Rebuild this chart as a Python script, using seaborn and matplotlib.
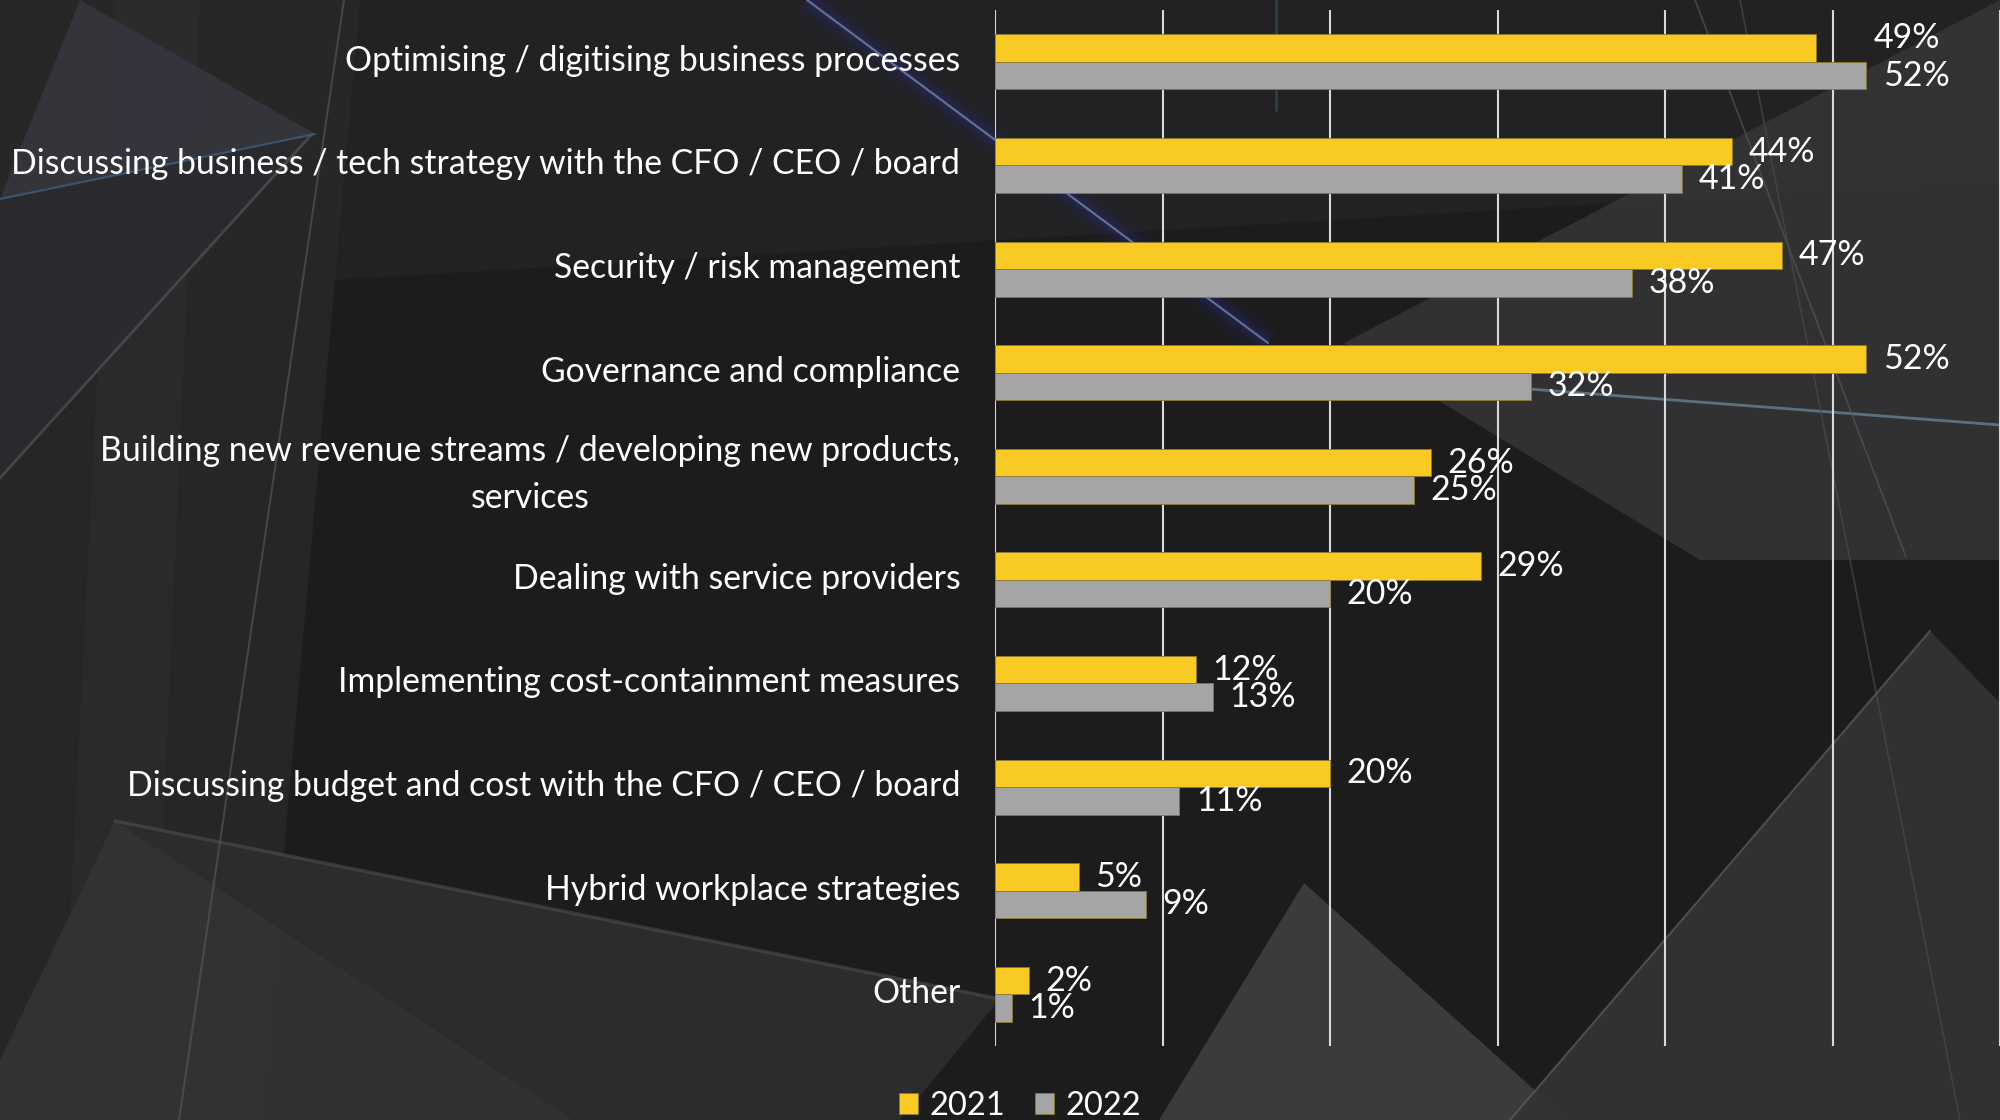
import pandas as pd
import matplotlib
matplotlib.use("Agg")
import matplotlib.pyplot as plt
from matplotlib.patches import Polygon
from matplotlib.transforms import ScaledTranslation
import seaborn as sns

# Données
categories = [
    "Optimising / digitising business processes",
    "Discussing business / tech strategy with the CFO / CEO / board",
    "Security / risk management",
    "Governance and compliance",
    "Building new revenue streams / developing new products,\nservices",
    "Dealing with service providers",
    "Implementing cost-containment measures",
    "Discussing budget and cost with the CFO / CEO / board",
    "Hybrid workplace strategies",
    "Other",
]
values_2021 = [49, 44, 47, 52, 26, 29, 12, 20, 5, 2]
values_2022 = [52, 41, 38, 32, 25, 20, 13, 11, 9, 1]
years = ["2021", "2022"]
colors = {"2021": "#F9CA24", "2022": "#A5A5A5"}
x_ticks = [0, 10, 20, 30, 40, 50, 60]

df = pd.DataFrame({
    "category": categories * 2,
    "value": values_2021 + values_2022,
    "year": [years[0]] * len(categories) + [years[1]] * len(categories),
})

sns.set_theme(style="white")
plt.rcParams["font.family"] = ["Lato", "DejaVu Sans"]

fig = plt.figure(figsize=(20, 11.2), dpi=100)
fig.patch.set_facecolor("#1c1c1d")

# Fond décoratif (formes géométriques sombres)
bg = fig.add_axes([0, 0, 1, 1], zorder=0)
bg.set_xlim(0, 2000)
bg.set_ylim(1120, 0)
bg.axis("off")
shapes = [
    ([(0, 0), (2000, 0), (2000, 180), (0, 300)], "#242426", 0.8),
    ([(0, 0), (360, 0), (260, 1120), (0, 1120)], "#29292a", 0.8),
    ([(116, 0), (200, 0), (150, 1120), (60, 1120)], "#2e2e30", 0.6),
    ([(80, 0), (315, 134), (0, 199)], "#35353d", 0.95),
    ([(0, 199), (315, 134), (0, 478)], "#2c2c30", 0.8),
    ([(115, 821), (0, 1060), (0, 1120), (574, 1120)], "#333335", 0.95),
    ([(115, 821), (1000, 999), (900, 1120), (574, 1120)], "#2d2d2f", 0.95),
    ([(1304, 883), (1159, 1120), (1568, 1120)], "#3d3d3f", 0.95),
    ([(1930, 631), (2000, 703), (2000, 1120), (1510, 1120)], "#333335", 0.95),
    ([(2000, 0), (1344, 343), (1700, 560), (2000, 560)], "#343436", 0.9),
]
for pts, col, a in shapes:
    bg.add_patch(Polygon(pts, closed=True, facecolor=col, edgecolor="none", alpha=a))

# traînée bleue lumineuse
for lw, a in [(22, 0.1), (11, 0.18), (5, 0.25)]:
    bg.plot([807, 1268], [0, 343], color="#2a2a80", lw=lw, alpha=a, solid_capstyle="butt")
bg.plot([807, 1268], [0, 343], color="#7f98a8", lw=1.5, alpha=0.7)
bg.plot([1276, 1276], [0, 110], color="#4f7f8f", lw=2, alpha=0.3)

streaks = [
    ([1529, 2000], [389, 425], "#6f8aa0", 2.0, 0.7),
    ([0, 315], [199, 134], "#3f5f80", 1.5, 0.8),
    ([0, 312], [478, 134], "#5a5a5a", 2.0, 0.6),
    ([344, 179], [0, 1120], "#5a5a5a", 1.5, 0.6),
    ([115, 1000], [821, 999], "#555555", 2.5, 0.5),
    ([1695, 1906], [0, 557], "#555555", 1.2, 0.7),
    ([1740, 1960], [0, 1120], "#4a4a4a", 1.2, 0.7),
    ([1930, 1510], [631, 1120], "#5e5e5e", 1.5, 0.7),
]
for xs, ys, col, lw, a in streaks:
    bg.plot(xs, ys, color=col, lw=lw, alpha=a)

# Graphique principal
ax = fig.add_axes([0.4975, 0.066, 0.5025, 0.925], zorder=1)
ax.set_facecolor("none")
sns.barplot(
    data=df, x="value", y="category", hue="year", orient="h",
    palette=colors, width=0.53, saturation=1, ax=ax,
    edgecolor="#8a7a30", linewidth=0.6,
)

ax.set_xlim(0, 60)
ax.set_xticks(x_ticks)
ax.grid(axis="x", color="#d9d9d9", lw=1.5)
ax.grid(axis="y", visible=False)
ax.set_axisbelow(True)
for s in ax.spines.values():
    s.set_visible(False)
ax.set_xlabel("")
ax.set_ylabel("")
ax.tick_params(axis="x", length=0, labelbottom=False)
ax.tick_params(axis="y", length=0, pad=25, labelsize=24.3, labelcolor="white")
for lbl in ax.get_yticklabels():
    lbl.set_multialignment("center")
    lbl.set_linespacing(1.55)
    dy = 0.12 if "\n" in lbl.get_text() else 0.04
    lbl.set_transform(lbl.get_transform() + ScaledTranslation(0, dy, fig.dpi_scale_trans))

# Étiquettes de valeurs
for cont, vals in zip(ax.containers, [values_2021, values_2022]):
    labs = ax.bar_label(cont, labels=[f"{v}%" for v in vals], padding=12,
                        color="white", fontsize=24.5)
    if vals is values_2021:
        labs[0].xyann = (42, 7)

# Légende
handles, labels = ax.get_legend_handles_labels()
ax.legend_.remove()
fig.legend(handles, labels, loc="lower center", bbox_to_anchor=(0.51, -0.027),
           ncol=2, frameon=False, fontsize=23.5, labelcolor="white",
           handlelength=0.6, handleheight=0.6, handletextpad=0.35,
           columnspacing=0.9)

fig.savefig("out.png", dpi=100, facecolor=fig.get_facecolor())
